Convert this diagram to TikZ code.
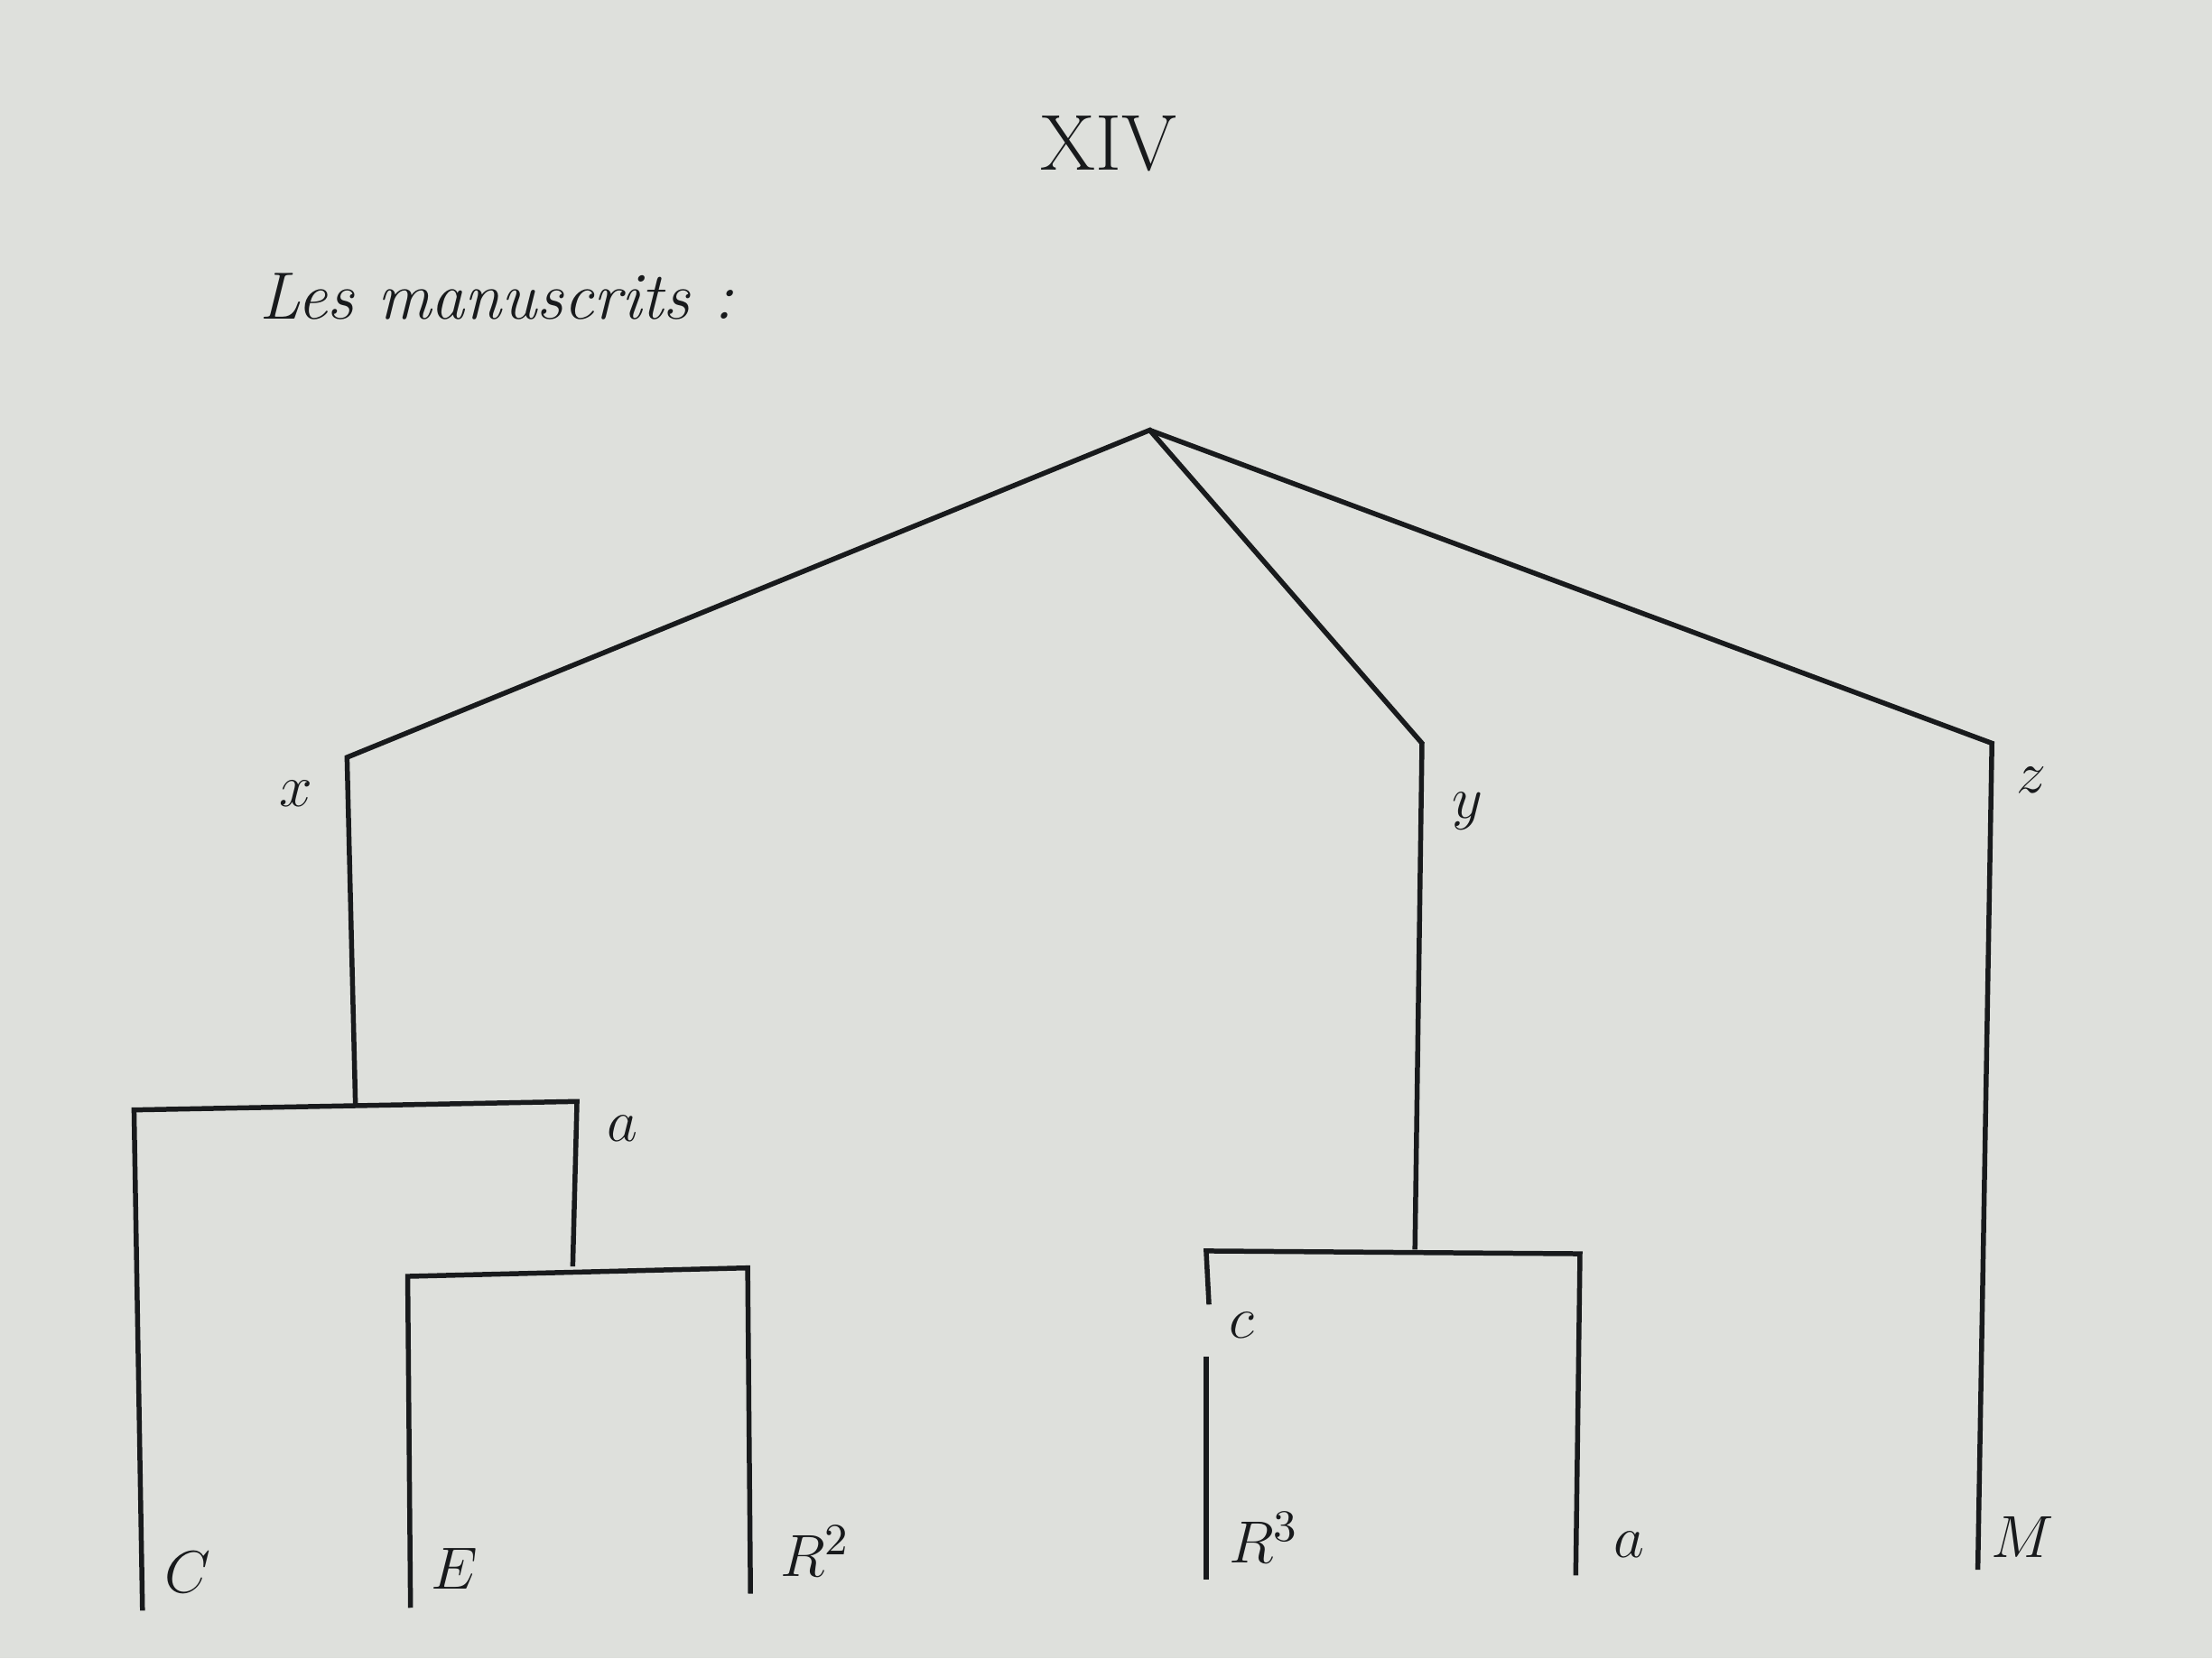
\documentclass[tikz,border=0pt]{standalone}
\usepackage{xcolor}
\definecolor{paper}{RGB}{222,224,220}
\definecolor{ink}{RGB}{24,26,28}
\begin{document}
\begin{tikzpicture}[x=0.01cm, y=-0.01cm]
        \tikzstyle{stem} = [draw=ink, line width=1pt]
        \tikzstyle{siglum} = [text=ink, font=\fontsize{13}{15}\selectfont, inner sep=0pt]
    \fill[paper] (0,0) rectangle (1568,1176);
    \useasboundingbox (0,0) rectangle (1568,1176);
    \node[text=ink, font=\fontsize{16}{18}\selectfont] (titre) at (786,102) {XIV};
    \node[text=ink, font=\fontsize{13.5}{16}\selectfont\itshape] (mss) at (352,210) {Les manuscrits :};
    % archetype and branches
    \coordinate (O) at (815,305);
    \coordinate (xt) at (246,537);  \coordinate (xb) at (252,785);
    \coordinate (yt) at (1008,527); \coordinate (yb) at (1003,886);
    \coordinate (zt) at (1412,527); \coordinate (zb) at (1402,1113);
    \draw[stem] (xb) -- (xt) -- (O) -- (yt) -- (yb);
    \draw[stem] (O) -- (zt) -- (zb);
    \node[siglum] (x) at (210,563) {$x$};
    \node[siglum] (y) at (1040,575) {$y$};
    \node[siglum] (z) at (1440,553) {$z$};
    \node[siglum] (M) at (1434,1090) {$M$};
    % family x
    \coordinate (h1l) at (95,787);  \coordinate (h1r) at (409,781);
    \coordinate (Cb) at (101,1142);
    \coordinate (ab) at (406,898);
    \coordinate (h2l) at (289,905); \coordinate (h2r) at (530,899);
    \coordinate (Eb) at (291,1140); \coordinate (Rb) at (532,1130);
    \draw[stem] (Cb) -- (h1l) -- (h1r) -- (ab);
    \draw[stem] (Eb) -- (h2l) -- (h2r) -- (Rb);
    \node[siglum] (a1) at (441,800) {$a$};
    \node[siglum] (C) at (133,1115) {$C$};
    \node[siglum] (E) at (322,1112) {$E$};
    \node[siglum] (R2) at (578,1100) {$R^{2}$};
    % family y
    \coordinate (h3l) at (855,887); \coordinate (h3r) at (1120,889);
    \coordinate (cu) at (857,925);  \coordinate (cd) at (855,962);
    \coordinate (R3b) at (855,1120); \coordinate (a2b) at (1117,1117);
    \draw[stem] (cu) -- (h3l) -- (h3r) -- (a2b);
    \draw[stem] (cd) -- (R3b);
    \node[siglum] (c) at (880,940) {$c$};
    \node[siglum] (R3) at (896,1090) {$R^{3}$};
    \node[siglum] (a2) at (1155,1095) {$a$};
\end{tikzpicture}
\end{document}
